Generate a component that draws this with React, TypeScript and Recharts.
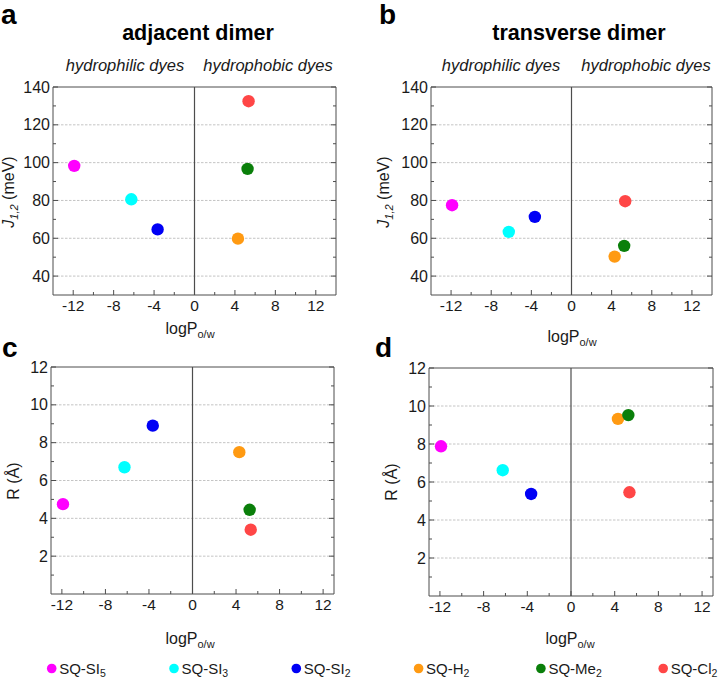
import React from 'react';
import { ScatterChart, Scatter, XAxis, YAxis, ReferenceLine } from 'recharts';

// ---------- data ----------
const dyeBase = ['SQ-SI', 'SQ-SI', 'SQ-SI', 'SQ-H', 'SQ-Me', 'SQ-Cl'];
const dyeSub = ['5', '3', '2', '2', '2', '2'];
const dyeColors = ['#FF00FF', '#00FFFF', '#0000F5', '#FF9A12', '#0A7F0A', '#FF4646'];
const logP = [-11.9, -6.25, -3.65, 4.3, 5.25, 5.35];

const adjacentJ = [98.3, 80.6, 64.7, 59.8, 96.7, 132.5];
const transverseJ = [77.5, 63.4, 71.3, 50.3, 56.0, 79.6];
const adjacentR = [4.75, 6.7, 8.9, 7.5, 4.45, 3.4];
const transverseR = [7.88, 6.62, 5.37, 9.32, 9.52, 5.46];

const xMajor = [-12, -8, -4, 0, 4, 8, 12];
const xMinor = [-10, -6, -2, 2, 6, 10];
const jMajor = [40, 60, 80, 100, 120, 140];
const jMinor = [50, 70, 90, 110, 130];
const jGrid = [40, 60, 80, 100, 120];
const rMajor = [2, 4, 6, 8, 10, 12];
const rMinor = [1, 3, 5, 7, 9, 11];
const rGrid = [2, 4, 6, 8, 10];

const FONT = '"Liberation Sans", Arial, sans-serif';
const AX = '#4d4d4d';
const MAJ = 5;
const MIN = 3;

// ---------- ticks ----------
const BottomTick = (p: any) => {
  const { x, y, payload, major } = p;
  const isMaj = major.includes(payload.value);
  return (
    <g>
      <line x1={x} x2={x} y1={y} y2={y - (isMaj ? MAJ : MIN)} stroke={AX} strokeWidth={1} />
      {isMaj && (
        <text x={x} y={y + 16} textAnchor="middle" fontSize={15.5} fill="#1a1a1a" fontFamily={FONT}>
          {String(payload.value)}
        </text>
      )}
    </g>
  );
};
const TopTick = (p: any) => {
  const { x, y, payload, major } = p;
  const isMaj = major.includes(payload.value);
  return <line x1={x} x2={x} y1={y} y2={y + (isMaj ? MAJ : MIN)} stroke={AX} strokeWidth={1} />;
};
const LeftTick = (p: any) => {
  const { x, y, payload, major } = p;
  const isMaj = major.includes(payload.value);
  return (
    <g>
      <line x1={x} x2={x + (isMaj ? MAJ : MIN)} y1={y} y2={y} stroke={AX} strokeWidth={1} />
      {isMaj && (
        <text x={x - 3} y={y + 5.6} textAnchor="end" fontSize={16} fill="#1a1a1a" fontFamily={FONT}>
          {String(payload.value)}
        </text>
      )}
    </g>
  );
};
const RightTick = (p: any) => {
  const { x, y, payload, major } = p;
  const isMaj = major.includes(payload.value);
  return <line x1={x} x2={x - (isMaj ? MAJ : MIN)} y1={y} y2={y} stroke={AX} strokeWidth={1} />;
};

// ---------- panel ----------
type PanelProps = {
  left: number; top: number; width: number; height: number;
  plot: { x: number; y: number; w: number; h: number };
  xDomain: [number, number]; yDomain: [number, number];
  yMaj: number[]; yMin: number[]; grid: number[]; values: number[];
};

function Panel({ left, top, width, height, plot, xDomain, yDomain, yMaj, yMin, grid, values }: PanelProps) {
  const s = 2;
  const margin = {
    left: plot.x - left - s,
    top: plot.y - top - s,
    right: left + width - (plot.x + plot.w) - s,
    bottom: top + height - (plot.y + plot.h) - s,
  };
  const axisLine = { stroke: AX, strokeWidth: 1 };
  return (
    <div style={{ position: 'absolute', left, top, width, height }}>
      <ScatterChart width={width} height={height} margin={margin}>
        <XAxis xAxisId="b" orientation="bottom" type="number" dataKey="x" domain={xDomain} allowDataOverflow
          ticks={[...xMajor, ...xMinor]} interval={0} tickSize={0} tickMargin={0} height={s}
          axisLine={axisLine} tickLine={false} tick={(p: any) => <BottomTick {...p} major={xMajor} />} />
        <XAxis xAxisId="t" orientation="top" type="number" domain={xDomain} allowDataOverflow
          ticks={[...xMajor, ...xMinor]} interval={0} tickSize={0} tickMargin={0} height={s}
          axisLine={axisLine} tickLine={false} tick={(p: any) => <TopTick {...p} major={xMajor} />} />
        <YAxis yAxisId="l" orientation="left" type="number" dataKey="y" domain={yDomain} allowDataOverflow
          ticks={[...yMaj, ...yMin]} interval={0} tickSize={0} tickMargin={0} width={s}
          axisLine={axisLine} tickLine={false} tick={(p: any) => <LeftTick {...p} major={yMaj} />} />
        <YAxis yAxisId="r" orientation="right" type="number" domain={yDomain} allowDataOverflow
          ticks={[...yMaj, ...yMin]} interval={0} tickSize={0} tickMargin={0} width={s}
          axisLine={axisLine} tickLine={false} tick={(p: any) => <RightTick {...p} major={yMaj} />} />
        {grid.map((g) => (
          <ReferenceLine key={'g' + g} xAxisId="b" yAxisId="l" y={g} stroke="#b5b5b5" strokeWidth={0.8} strokeDasharray="2.5 1.5" />
        ))}
        <ReferenceLine xAxisId="b" yAxisId="l" x={0} stroke={AX} strokeWidth={1.2} />
        {values.map((v, i) => (
          <Scatter key={i} xAxisId="b" yAxisId="l" data={[{ x: logP[i], y: v }]} fill={dyeColors[i]}
            isAnimationActive={false}
            shape={(p: any) => <circle cx={p.cx} cy={p.cy} r={6.2} fill={dyeColors[i]} />} />
        ))}
      </ScatterChart>
    </div>
  );
}

const LogP = ({ x, y }: { x: number; y: number }) => (
  <text x={x} y={y} textAnchor="middle" fontSize={16} fill="#1a1a1a" fontFamily={FONT}>
    logP<tspan fontSize={11} dy={4}>o/w</tspan>
  </text>
);

export default function App() {
  return (
    <div style={{ position: 'absolute', left: 0, top: 0, width: 718, height: 678, background: '#fff', fontFamily: FONT, overflow: 'hidden' }}>
      <Panel left={0} top={0} width={358} height={320} plot={{ x: 53, y: 87, w: 283, h: 208 }}
        xDomain={[-14, 14]} yDomain={[30, 140]} yMaj={jMajor} yMin={jMinor} grid={jGrid} values={adjacentJ} />
      <Panel left={358} top={0} width={360} height={320} plot={{ x: 431, y: 87, w: 281, h: 208 }}
        xDomain={[-14, 14]} yDomain={[30, 140]} yMaj={jMajor} yMin={jMinor} grid={jGrid} values={transverseJ} />
      <Panel left={0} top={320} width={358} height={320} plot={{ x: 51, y: 367, w: 283, h: 227 }}
        xDomain={[-13, 13]} yDomain={[0, 12]} yMaj={rMajor} yMin={rMinor} grid={rGrid} values={adjacentR} />
      <Panel left={358} top={320} width={360} height={320} plot={{ x: 429, y: 368, w: 284, h: 228 }}
        xDomain={[-13, 13]} yDomain={[0, 12]} yMaj={rMajor} yMin={rMinor} grid={rGrid} values={transverseR} />

      <svg width={718} height={678} style={{ position: 'absolute', left: 0, top: 0, pointerEvents: 'none' }}>
        {/* panel letters */}
        <text x={1} y={24} fontSize={28} fontWeight="bold" fill="#000" fontFamily={FONT}>a</text>
        <text x={379} y={24} fontSize={28} fontWeight="bold" fill="#000" fontFamily={FONT}>b</text>
        <text x={2} y={356.5} fontSize={28} fontWeight="bold" fill="#000" fontFamily={FONT}>c</text>
        <text x={375} y={357} fontSize={28} fontWeight="bold" fill="#000" fontFamily={FONT}>d</text>

        {/* titles */}
        <text x={198} y={40} textAnchor="middle" fontSize={21.5} fontWeight="bold" fill="#000" fontFamily={FONT}>adjacent dimer</text>
        <text x={579} y={40} textAnchor="middle" fontSize={21.5} fontWeight="bold" fill="#000" fontFamily={FONT}>transverse dimer</text>

        <text x={125} y={71} textAnchor="middle" fontSize={16.5} fontStyle="italic" fill="#1a1a1a" fontFamily={FONT}>hydrophilic dyes</text>
        <text x={268} y={71} textAnchor="middle" fontSize={16.5} fontStyle="italic" fill="#1a1a1a" fontFamily={FONT}>hydrophobic dyes</text>
        <text x={501} y={71} textAnchor="middle" fontSize={16.5} fontStyle="italic" fill="#1a1a1a" fontFamily={FONT}>hydrophilic dyes</text>
        <text x={646} y={71} textAnchor="middle" fontSize={16.5} fontStyle="italic" fill="#1a1a1a" fontFamily={FONT}>hydrophobic dyes</text>

        {/* y labels */}
        <text x={14} y={192} transform="rotate(-90 14 192)" textAnchor="middle" fontSize={16} fill="#1a1a1a" fontFamily={FONT}>
          <tspan fontStyle="italic">J</tspan><tspan fontStyle="italic" fontSize={11} dy={4}>1,2</tspan><tspan dy={-4}> (meV)</tspan>
        </text>
        <text x={389} y={192} transform="rotate(-90 389 192)" textAnchor="middle" fontSize={16} fill="#1a1a1a" fontFamily={FONT}>
          <tspan fontStyle="italic">J</tspan><tspan fontStyle="italic" fontSize={11} dy={4}>1,2</tspan><tspan dy={-4}> (meV)</tspan>
        </text>
        <text x={19} y={481} transform="rotate(-90 19 481)" textAnchor="middle" fontSize={16} fill="#1a1a1a" fontFamily={FONT}>R (Å)</text>
        <text x={397} y={482} transform="rotate(-90 397 482)" textAnchor="middle" fontSize={16} fill="#1a1a1a" fontFamily={FONT}>R (Å)</text>

        {/* x labels */}
        <LogP x={190} y={334} />
        <LogP x={572} y={342} />
        <LogP x={190} y={644} />
        <LogP x={570} y={644} />

        {/* legend */}
        {dyeBase.map((b, i) => {
          const cx = 51.7 + i * 122.3;
          return (
            <g key={b + i}>
              <circle cx={cx} cy={668.5} r={4.8} fill={dyeColors[i]} />
              <text x={cx + 7.5} y={674} fontSize={15} fill="#1a1a1a" fontFamily={FONT}>
                {b}<tspan fontSize={10.5} dy={3}>{dyeSub[i]}</tspan>
              </text>
            </g>
          );
        })}
      </svg>
    </div>
  );
}
